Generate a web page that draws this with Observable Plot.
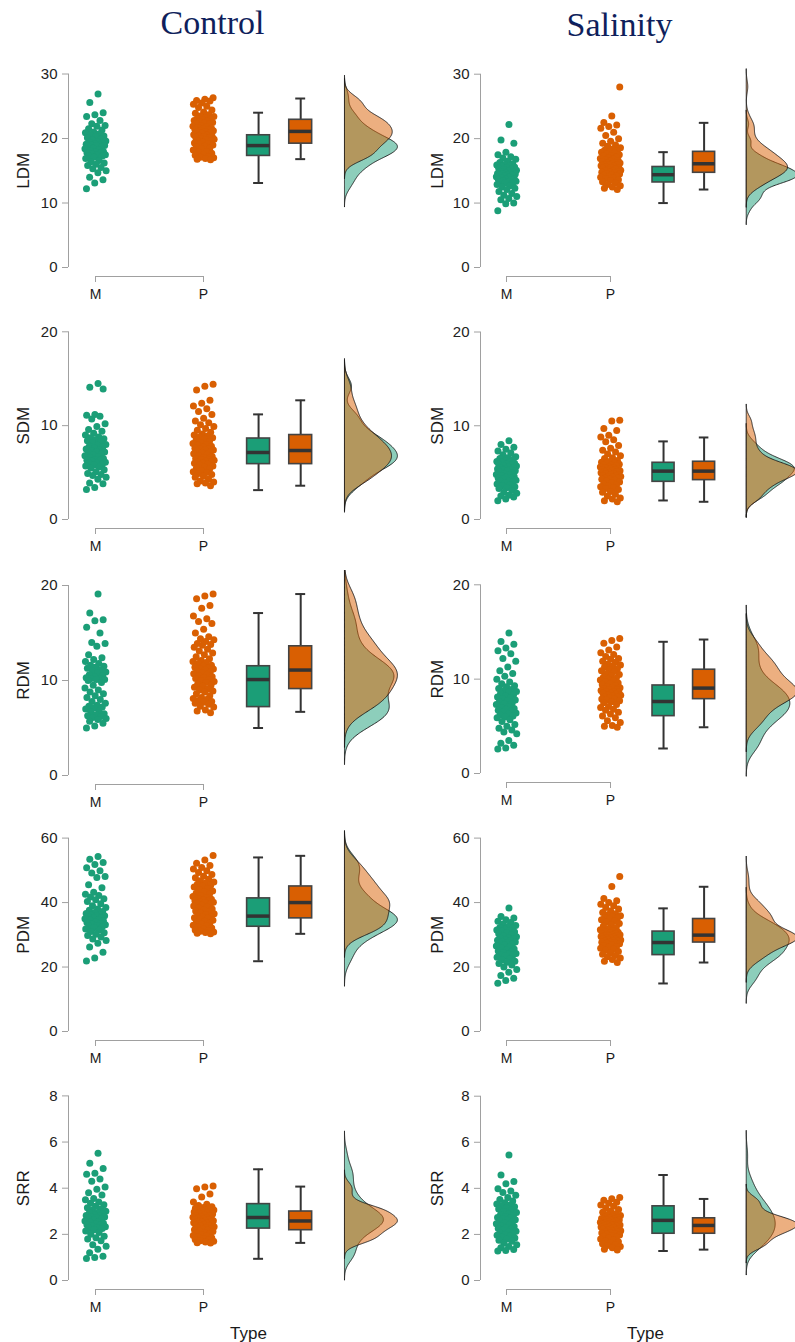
<!DOCTYPE html>
<html>
<head>
<meta charset="utf-8">
<script src="https://cdn.jsdelivr.net/npm/d3@7"></script>
<script src="https://cdn.jsdelivr.net/npm/@observablehq/plot@0.6"></script>
<style>
  html, body { margin: 0; padding: 0; background: #fff; }
  #page { position: relative; width: 795px; height: 1342px; overflow: hidden; background: #fff; }
  .title { position: absolute; top: 6px; font-family: "Liberation Serif", "Times New Roman", serif; font-size: 34px; line-height: 34px; color: #0f1f5c; text-align: center; }
  .panel { position: absolute; overflow: hidden; }
</style>
</head>
<body>
<div id="page"></div>
<script>
// ---------------- data ----------------
const conditions = ["Control", "Salinity"];
const typeLabels = ["M", "P"];
const traits = ["LDM", "SDM", "RDM", "PDM", "SRR"];
const yMax = [30, 20, 20, 60, 8];
const yTicks = [[0, 10, 20, 30], [0, 10, 20], [0, 10, 20], [0, 20, 40, 60], [0, 2, 4, 6, 8]];

// individual observations read from the jittered points
const ldmControlM = [26.9, 25.6, 24.0, 23.7, 23.4, 22.8, 22.3, 22.0, 21.9, 21.5, 21.3, 21.0, 20.9, 20.7, 20.6,
  20.4, 20.3, 20.1, 19.9, 19.8, 19.6, 19.5, 19.4, 19.3, 19.2, 19.1, 19.0, 19.0, 18.9, 18.9,
  18.8, 18.7, 18.5, 18.4, 18.2, 18.1, 18.0, 17.9, 17.8, 17.7, 17.6, 17.5, 17.4, 17.3, 17.3,
  17.1, 16.9, 16.6, 16.4, 16.2, 16.0, 15.8, 15.5, 15.3, 15.0, 14.7, 14.0, 13.6, 13.1, 12.2];
const ldmControlP = [26.3, 26.1, 25.9, 25.8, 25.5, 25.3, 25.0, 24.8, 24.4, 24.1, 23.9, 23.7, 23.5, 23.4, 23.2, 23.1, 23.0, 22.9,
  22.8, 22.7, 22.6, 22.5, 22.4, 22.3, 22.2, 22.0, 21.9, 21.8, 21.7, 21.6, 21.5, 21.4, 21.3, 21.2, 21.2, 21.1,
  21.0, 20.9, 20.8, 20.6, 20.5, 20.4, 20.3, 20.3, 20.2, 20.1, 20.0, 19.9, 19.8, 19.7, 19.6, 19.4, 19.3, 19.2,
  19.1, 19.0, 18.8, 18.7, 18.5, 18.4, 18.2, 18.0, 17.9, 17.7, 17.5, 17.4, 17.2, 17.1, 17.0, 16.9, 16.8, 16.7];
const ldmSalinityM = [22.2, 19.8, 19.3, 17.9, 17.5, 17.2, 17.0, 16.8, 16.5, 16.3, 16.1, 16.0, 15.9, 15.8, 15.7,
  15.6, 15.5, 15.4, 15.3, 15.2, 15.1, 15.0, 14.9, 14.8, 14.7, 14.6, 14.6, 14.5, 14.5, 14.4,
  14.3, 14.3, 14.2, 14.1, 14.0, 13.9, 13.8, 13.7, 13.7, 13.6, 13.5, 13.4, 13.3, 13.3, 13.2,
  13.1, 12.9, 12.7, 12.5, 12.3, 12.1, 11.8, 11.5, 11.2, 11.0, 10.7, 10.5, 10.0, 9.9, 8.8];
const ldmSalinityP = [28.0, 23.5, 22.5, 22.1, 21.9, 21.6, 21.0, 20.5, 20.0, 19.6, 19.3, 19.0, 18.8, 18.6, 18.4, 18.2, 18.1, 18.0,
  17.9, 17.8, 17.6, 17.5, 17.4, 17.3, 17.1, 17.0, 16.9, 16.8, 16.7, 16.6, 16.5, 16.4, 16.3, 16.2, 16.2, 16.1,
  16.0, 15.9, 15.9, 15.8, 15.7, 15.6, 15.5, 15.5, 15.4, 15.3, 15.2, 15.1, 15.0, 15.0, 14.9, 14.8, 14.8, 14.7,
  14.6, 14.5, 14.4, 14.3, 14.2, 14.1, 14.0, 13.9, 13.8, 13.6, 13.5, 13.3, 13.1, 12.9, 12.7, 12.5, 12.3, 12.1];

const sdmControlM = [14.5, 14.1, 13.9, 11.2, 11.1, 11.0, 10.7, 10.2, 9.9, 9.6, 9.4, 9.2, 9.0, 8.8, 8.7,
  8.6, 8.5, 8.4, 8.3, 8.2, 8.0, 7.9, 7.8, 7.7, 7.6, 7.5, 7.4, 7.3, 7.2, 7.2,
  7.1, 7.0, 6.9, 6.8, 6.7, 6.6, 6.5, 6.4, 6.3, 6.3, 6.2, 6.1, 6.0, 6.0, 5.9,
  5.8, 5.7, 5.6, 5.5, 5.3, 5.1, 4.9, 4.8, 4.7, 4.5, 4.3, 3.9, 3.8, 3.4, 3.2];
const sdmControlP = [14.4, 14.2, 13.8, 12.7, 12.4, 12.1, 11.8, 11.5, 11.2, 10.8, 10.5, 10.3, 10.1, 9.9, 9.7, 9.5, 9.3, 9.1,
  9.0, 8.9, 8.8, 8.7, 8.6, 8.5, 8.3, 8.2, 8.1, 8.0, 7.9, 7.8, 7.7, 7.6, 7.5, 7.5, 7.4, 7.4,
  7.3, 7.2, 7.1, 7.0, 6.9, 6.8, 6.7, 6.6, 6.5, 6.4, 6.4, 6.3, 6.2, 6.1, 6.1, 6.0, 6.0, 5.9,
  5.8, 5.7, 5.6, 5.5, 5.4, 5.2, 5.1, 5.0, 4.9, 4.8, 4.6, 4.5, 4.3, 4.1, 4.0, 3.9, 3.8, 3.6];
const sdmSalinityM = [8.4, 8.0, 7.7, 7.5, 7.3, 7.1, 6.9, 6.7, 6.6, 6.5, 6.4, 6.3, 6.2, 6.1, 6.1,
  6.0, 5.9, 5.9, 5.8, 5.7, 5.7, 5.6, 5.5, 5.5, 5.4, 5.4, 5.3, 5.3, 5.2, 5.2,
  5.1, 5.0, 4.9, 4.8, 4.8, 4.7, 4.6, 4.5, 4.4, 4.4, 4.3, 4.2, 4.1, 4.1, 4.0,
  3.9, 3.8, 3.7, 3.6, 3.5, 3.4, 3.3, 3.1, 2.9, 2.8, 2.6, 2.5, 2.4, 2.2, 2.0];
const sdmSalinityP = [10.6, 10.5, 9.7, 9.5, 9.0, 8.8, 8.5, 8.3, 7.9, 7.6, 7.4, 7.2, 7.0, 6.8, 6.6, 6.5, 6.3, 6.2,
  6.1, 6.0, 6.0, 5.9, 5.8, 5.8, 5.7, 5.6, 5.6, 5.5, 5.5, 5.4, 5.4, 5.3, 5.3, 5.2, 5.2, 5.2,
  5.1, 5.1, 5.0, 5.0, 4.9, 4.9, 4.8, 4.8, 4.7, 4.7, 4.6, 4.6, 4.5, 4.4, 4.4, 4.3, 4.3, 4.2,
  4.1, 4.0, 3.9, 3.8, 3.7, 3.6, 3.5, 3.4, 3.3, 3.2, 3.0, 2.9, 2.7, 2.5, 2.3, 2.2, 2.0, 1.9];

const rdmControlM = [19.1, 17.1, 16.4, 16.3, 15.6, 15.0, 14.0, 13.9, 13.6, 12.7, 12.4, 12.2, 12.0, 11.8, 11.6,
  11.5, 11.4, 11.3, 11.1, 11.0, 10.9, 10.8, 10.6, 10.5, 10.4, 10.3, 10.2, 10.2, 10.1, 10.1,
  10.0, 9.8, 9.5, 9.2, 9.0, 8.8, 8.6, 8.4, 8.2, 8.0, 7.8, 7.6, 7.4, 7.3, 7.2,
  7.1, 7.0, 6.8, 6.7, 6.5, 6.4, 6.3, 6.2, 6.1, 6.0, 5.9, 5.7, 5.5, 5.2, 5.0];
const rdmControlP = [19.1, 18.9, 18.6, 17.9, 17.6, 16.8, 16.5, 16.2, 16.0, 15.4, 15.0, 14.6, 14.4, 14.3, 14.1, 13.9, 13.8, 13.7,
  13.5, 13.3, 13.1, 12.9, 12.7, 12.5, 12.3, 12.1, 12.0, 11.9, 11.8, 11.6, 11.5, 11.4, 11.3, 11.2, 11.2, 11.1,
  11.0, 10.9, 10.8, 10.7, 10.6, 10.5, 10.4, 10.3, 10.2, 10.1, 10.0, 9.9, 9.8, 9.6, 9.5, 9.4, 9.3, 9.1,
  9.0, 8.9, 8.8, 8.6, 8.4, 8.2, 8.1, 8.0, 7.9, 7.8, 7.7, 7.6, 7.5, 7.3, 7.2, 6.9, 6.8, 6.6];
const rdmSalinityM = [14.9, 14.0, 13.7, 13.3, 13.0, 12.7, 12.2, 11.9, 11.3, 10.9, 10.6, 10.3, 10.0, 9.7, 9.5,
  9.3, 9.2, 9.0, 8.9, 8.8, 8.7, 8.6, 8.5, 8.3, 8.2, 8.1, 8.0, 7.9, 7.8, 7.7,
  7.6, 7.5, 7.4, 7.3, 7.1, 7.0, 6.9, 6.8, 6.7, 6.6, 6.5, 6.4, 6.3, 6.2, 6.1,
  6.0, 5.9, 5.7, 5.5, 5.2, 5.0, 4.8, 4.6, 4.4, 4.2, 3.5, 3.2, 3.0, 2.7, 2.6];
const rdmSalinityP = [14.3, 14.1, 13.8, 13.4, 13.1, 12.8, 12.6, 12.4, 12.2, 12.1, 11.9, 11.8, 11.6, 11.5, 11.4, 11.3, 11.1, 11.0,
  10.9, 10.8, 10.6, 10.5, 10.4, 10.2, 10.1, 10.0, 9.9, 9.8, 9.7, 9.6, 9.5, 9.4, 9.3, 9.2, 9.1, 9.1,
  9.0, 8.9, 8.9, 8.8, 8.7, 8.7, 8.6, 8.5, 8.5, 8.4, 8.3, 8.3, 8.2, 8.1, 8.1, 8.0, 7.9, 7.9,
  7.8, 7.7, 7.6, 7.5, 7.3, 7.1, 7.0, 6.8, 6.7, 6.5, 6.3, 6.1, 5.9, 5.6, 5.4, 5.1, 5.0, 4.9];

const pdmControlM = [54.3, 53.4, 52.4, 51.8, 50.8, 49.9, 49.2, 48.1, 47.8, 45.5, 44.6, 43.2, 42.6, 42.2, 41.7,
  41.2, 40.9, 40.3, 39.6, 39.0, 38.5, 38.0, 37.6, 37.2, 36.9, 36.6, 36.3, 36.1, 35.9, 35.8,
  35.6, 35.4, 35.2, 35.0, 34.7, 34.5, 34.3, 34.0, 33.8, 33.5, 33.3, 33.1, 32.9, 32.7, 32.5,
  32.2, 31.8, 31.4, 31.0, 30.6, 30.2, 29.8, 29.3, 28.7, 28.2, 27.4, 26.2, 24.6, 22.8, 21.9];
const pdmControlP = [54.6, 53.2, 52.2, 51.5, 50.9, 50.4, 49.9, 49.3, 48.7, 48.2, 47.7, 47.2, 46.8, 46.4, 46.0, 45.7, 45.4, 45.1,
  44.8, 44.4, 44.0, 43.6, 43.3, 42.9, 42.6, 42.2, 41.9, 41.6, 41.3, 41.0, 40.8, 40.6, 40.4, 40.2, 40.1, 40.0,
  39.8, 39.5, 39.2, 38.9, 38.6, 38.3, 38.0, 37.7, 37.4, 37.1, 36.8, 36.5, 36.2, 35.9, 35.7, 35.5, 35.3, 35.1,
  34.8, 34.5, 34.2, 33.9, 33.6, 33.3, 33.0, 32.7, 32.4, 32.1, 31.8, 31.5, 31.3, 31.1, 30.9, 30.7, 30.5, 30.3];
const pdmSalinityM = [38.3, 35.7, 35.2, 34.7, 34.2, 33.8, 33.3, 32.9, 32.6, 32.3, 32.0, 31.7, 31.5, 31.3, 31.1,
  30.9, 30.6, 30.3, 30.0, 29.7, 29.4, 29.1, 28.9, 28.7, 28.5, 28.3, 28.1, 27.9, 27.8, 27.6,
  27.4, 27.1, 26.8, 26.5, 26.2, 25.9, 25.6, 25.3, 25.0, 24.7, 24.5, 24.2, 24.0, 23.8, 23.7,
  23.4, 23.0, 22.6, 22.2, 21.8, 21.5, 21.1, 20.6, 20.0, 19.2, 18.4, 17.4, 16.5, 15.8, 15.0];
const pdmSalinityP = [48.1, 45.0, 41.3, 40.6, 40.0, 39.5, 39.0, 38.5, 38.0, 37.4, 36.9, 36.5, 36.2, 35.9, 35.6, 35.4, 35.2, 35.0,
  34.7, 34.3, 33.9, 33.5, 33.1, 32.7, 32.3, 31.9, 31.6, 31.3, 31.0, 30.8, 30.6, 30.4, 30.3, 30.1, 30.0, 29.9,
  29.8, 29.7, 29.6, 29.5, 29.3, 29.2, 29.0, 28.9, 28.8, 28.6, 28.5, 28.4, 28.2, 28.1, 28.0, 27.8, 27.7, 27.6,
  27.4, 27.2, 27.0, 26.7, 26.4, 26.1, 25.8, 25.5, 25.2, 24.8, 24.4, 24.0, 23.6, 23.2, 22.8, 22.3, 21.8, 21.4];

const srrControlM = [5.52, 5.08, 4.85, 4.65, 4.60, 4.40, 4.30, 4.05, 3.95, 3.80, 3.70, 3.55, 3.50, 3.40, 3.35,
  3.28, 3.22, 3.15, 3.10, 3.05, 3.00, 2.95, 2.92, 2.88, 2.85, 2.82, 2.80, 2.77, 2.75, 2.73,
  2.70, 2.66, 2.62, 2.58, 2.55, 2.52, 2.48, 2.45, 2.42, 2.39, 2.36, 2.33, 2.30, 2.27, 2.25,
  2.20, 2.15, 2.08, 2.00, 1.92, 1.85, 1.80, 1.72, 1.55, 1.48, 1.35, 1.20, 1.05, 1.00, 0.95];
const srrControlP = [4.10, 4.05, 3.98, 3.75, 3.62, 3.40, 3.30, 3.25, 3.20, 3.16, 3.13, 3.10, 3.08, 3.06, 3.04, 3.02, 3.01, 3.00,
  2.97, 2.94, 2.91, 2.88, 2.85, 2.82, 2.80, 2.77, 2.74, 2.72, 2.70, 2.68, 2.66, 2.64, 2.62, 2.60, 2.59, 2.58,
  2.56, 2.54, 2.52, 2.50, 2.48, 2.46, 2.44, 2.42, 2.40, 2.38, 2.36, 2.33, 2.30, 2.28, 2.25, 2.23, 2.20, 2.18,
  2.15, 2.12, 2.08, 2.05, 2.02, 1.98, 1.95, 1.92, 1.88, 1.85, 1.82, 1.78, 1.75, 1.72, 1.70, 1.67, 1.64, 1.62];
const srrSalinityM = [5.45, 4.58, 4.30, 4.20, 3.98, 3.88, 3.82, 3.70, 3.60, 3.52, 3.45, 3.38, 3.32, 3.28, 3.24,
  3.20, 3.15, 3.10, 3.05, 3.00, 2.95, 2.90, 2.86, 2.82, 2.78, 2.74, 2.70, 2.67, 2.64, 2.61,
  2.58, 2.54, 2.50, 2.46, 2.42, 2.38, 2.34, 2.30, 2.26, 2.22, 2.18, 2.14, 2.10, 2.06, 2.03,
  2.00, 1.96, 1.92, 1.88, 1.84, 1.80, 1.75, 1.70, 1.62, 1.55, 1.48, 1.42, 1.35, 1.30, 1.28];
const srrSalinityP = [3.60, 3.55, 3.48, 3.40, 3.35, 3.28, 3.22, 3.15, 3.08, 3.02, 2.96, 2.90, 2.86, 2.82, 2.78, 2.75, 2.73, 2.71,
  2.69, 2.67, 2.65, 2.63, 2.61, 2.59, 2.57, 2.55, 2.53, 2.51, 2.49, 2.47, 2.45, 2.44, 2.43, 2.42, 2.41, 2.40,
  2.38, 2.36, 2.34, 2.32, 2.30, 2.28, 2.26, 2.24, 2.22, 2.20, 2.18, 2.16, 2.14, 2.12, 2.10, 2.08, 2.06, 2.04,
  2.01, 1.98, 1.95, 1.92, 1.88, 1.84, 1.80, 1.76, 1.72, 1.68, 1.64, 1.60, 1.56, 1.52, 1.48, 1.42, 1.36, 1.32];

// box statistics: [lower whisker, Q1, median, Q3, upper whisker], one per trait
const boxControlM  = [[13.1, 17.3, 18.9, 20.5, 24.0], [3.13, 5.9, 7.14, 8.63, 11.2], [5.0, 7.2, 10.1, 11.5, 17.1], [21.8, 32.5, 35.8, 41.3, 54.0], [0.94, 2.25, 2.73, 3.31, 4.82]];
const boxControlP  = [[16.8, 19.2, 21.1, 22.9, 26.2], [3.6, 5.9, 7.35, 9.0, 12.7], [6.7, 9.1, 11.1, 13.6, 19.1], [30.3, 35.1, 40.0, 45.0, 54.5], [1.63, 2.18, 2.58, 2.99, 4.07]];
const boxSalinityM = [[10.0, 13.2, 14.4, 15.6, 17.9], [2.03, 4.02, 5.16, 6.05, 8.33], [2.65, 6.08, 7.63, 9.33, 13.96], [14.9, 23.7, 27.6, 31.0, 38.2], [1.28, 2.03, 2.61, 3.22, 4.58]];
const boxSalinityP = [[12.1, 14.7, 16.1, 17.95, 22.45], [1.89, 4.2, 5.16, 6.16, 8.75], [4.9, 7.88, 9.05, 11.0, 14.2], [21.4, 27.6, 29.9, 34.9, 44.9], [1.34, 2.03, 2.39, 2.70, 3.54]];

// ---------------- assembly ----------------
const pointSets = [
  [[ldmControlM, ldmControlP], [sdmControlM, sdmControlP], [rdmControlM, rdmControlP], [pdmControlM, pdmControlP], [srrControlM, srrControlP]],
  [[ldmSalinityM, ldmSalinityP], [sdmSalinityM, sdmSalinityP], [rdmSalinityM, rdmSalinityP], [pdmSalinityM, pdmSalinityP], [srrSalinityM, srrSalinityP]]
];
const boxSets = [[boxControlM, boxControlP], [boxSalinityM, boxSalinityP]];

const typeColors = ["#1b9e77", "#d95f02"];
const POS_POINTS = [1, 2], POS_BOX = [2.51, 2.90], POS_DENS = 3.31, AXIS_X = 0.75;
const DENS_W = 0.49, BOX_HW = 0.106, CAP_HW = 0.046;

const colLayout = [
  {left: 0, width: 400, marginLeft: 68, unit: 108, labelDx: -45, typeDx: 45},
  {left: 400, width: 395, marginLeft: 80, unit: 104, labelDx: -43, typeDx: 35}
];
const Y0 = 205;
const rowTop = [[61.5, 314.3, 570, 825.7, 1075.3], [61.5, 314.3, 568, 825.7, 1075.3]];
const rowLen = [[193.5, 187.7, 190, 193.4, 184.6], [193.3, 187.5, 188.7, 193.4, 184.3]];

function kde(values) {
  const n = values.length;
  const sd = d3.deviation(values);
  const s = values.slice().sort(d3.ascending);
  const iqr = d3.quantileSorted(s, 0.75) - d3.quantileSorted(s, 0.25);
  const bw = 0.9 * Math.min(sd, iqr / 1.34) * Math.pow(n, -0.2);
  const lo = s[0] - 3 * bw, hi = s[n - 1] + 3 * bw;
  const out = [];
  const K = 240;
  for (let k = 0; k <= K; k++) {
    const y = lo + (hi - lo) * k / K;
    let acc = 0;
    for (const v of values) { const z = (y - v) / bw; acc += Math.exp(-0.5 * z * z); }
    out.push({y, d: acc / (n * bw * Math.sqrt(2 * Math.PI))});
  }
  return out;
}

function jitter(i) {
  return ((((i + 1) * 0.6180339887) % 1) - 0.5) * 0.2;
}

const page = document.getElementById("page");

conditions.forEach((cond, ci) => {
  const t = document.createElement("div");
  t.className = "title";
  t.textContent = cond;
  if (ci === 0) { t.style.left = "0px"; t.style.width = "425px"; }
  else { t.style.left = "400px"; t.style.width = "439px"; t.style.top = "8px"; }
  page.appendChild(t);
});

conditions.forEach((cond, ci) => {
  const L = colLayout[ci];
  traits.forEach((trait, ri) => {
    const H = ri === 4 ? 267 : 250;
    const len = rowLen[ci][ri];
    const [mVals, pVals] = pointSets[ci][ri];
    const points = [];
    [mVals, pVals].forEach((vals, ti) => {
      vals.forEach((v, i) => points.push({type: typeLabels[ti], x: POS_POINTS[ti] + jitter(i + ti * 7), y: v, c: typeColors[ti]}));
    });
    const dens = [kde(mVals), kde(pVals)];
    const maxD = d3.max(dens.flat(), d => d.d);
    const densData = dens.map(arr => arr.map(p => ({y: p.y, x1: POS_DENS, x2: POS_DENS + DENS_W * p.d / maxD})));
    const boxes = boxSets[ci].map((b, ti) => ({
      pos: POS_BOX[ti], lo: b[ri][0], q1: b[ri][1], med: b[ri][2], q3: b[ri][3], hi: b[ri][4], c: typeColors[ti]
    }));

    const marks = [
      Plot.ruleX([AXIS_X], {y1: 0, y2: yMax[ri], stroke: "#a0a0a0", strokeWidth: 1}),
      Plot.axisY({ticks: yTicks[ri], tickSize: 6, tickPadding: 5, fontSize: 15, stroke: "#a0a0a0", fill: "#222", label: null}),
      Plot.text([trait], {x: AXIS_X, y: yMax[ri] / 2, text: d => d, rotate: -90, dx: L.labelDx, fontSize: 17, fill: "#1a1a1a"}),
      Plot.ruleY([0], {x1: POS_POINTS[0], x2: POS_POINTS[1], dy: 9, stroke: "#a0a0a0", strokeWidth: 1}),
      Plot.axisX({ticks: POS_POINTS, tickFormat: d => typeLabels[POS_POINTS.indexOf(d)], tickSize: 6, tickPadding: 7, fontSize: 14, stroke: "#a0a0a0", fill: "#1a1a1a", label: null}),
      Plot.dot(points, {x: "x", y: "y", r: 3.5, fill: "c", stroke: null}),
      Plot.ruleX(boxes, {x: "pos", y1: "lo", y2: "q1", stroke: "#333", strokeWidth: 2}),
      Plot.ruleX(boxes, {x: "pos", y1: "q3", y2: "hi", stroke: "#333", strokeWidth: 2}),
      Plot.ruleY(boxes, {y: "lo", x1: d => d.pos - CAP_HW, x2: d => d.pos + CAP_HW, stroke: "#333", strokeWidth: 2}),
      Plot.ruleY(boxes, {y: "hi", x1: d => d.pos - CAP_HW, x2: d => d.pos + CAP_HW, stroke: "#333", strokeWidth: 2}),
      Plot.rect(boxes, {x1: d => d.pos - BOX_HW, x2: d => d.pos + BOX_HW, y1: "q1", y2: "q3", fill: "c", stroke: "#444", strokeWidth: 1.6}),
      Plot.ruleY(boxes, {y: "med", x1: d => d.pos - BOX_HW, x2: d => d.pos + BOX_HW, stroke: "#333", strokeWidth: 3.5}),
      Plot.areaX(densData[0], {y: "y", x1: "x1", x2: "x2", fill: typeColors[0], fillOpacity: 0.5, stroke: "#1a1a1a", strokeWidth: 0.9, curve: "linear"}),
      Plot.areaX(densData[1], {y: "y", x1: "x1", x2: "x2", fill: typeColors[1], fillOpacity: 0.5, stroke: "#1a1a1a", strokeWidth: 0.9, curve: "linear"})
    ];
    if (ri === 4) {
      marks.push(Plot.text(["Type"], {x: POS_POINTS[1], y: 0, text: d => d, dx: L.typeDx, dy: 53, fontSize: 17, fill: "#1a1a1a"}));
    }

    const svg = Plot.plot({
      width: L.width,
      height: H,
      marginLeft: L.marginLeft,
      marginRight: 0,
      marginTop: 0,
      marginBottom: H - (Y0 + 9),
      x: {type: "linear", domain: [AXIS_X, 3.88], range: [L.marginLeft, L.marginLeft + 3.13 * L.unit]},
      y: {type: "linear", domain: [0, yMax[ri]], range: [Y0, Y0 - len]},
      style: {background: "transparent", overflow: "hidden", fontFamily: "'Liberation Sans', Arial, sans-serif", color: "#222"},
      marks
    });
    const wrap = document.createElement("div");
    wrap.className = "panel";
    wrap.style.left = L.left + "px";
    wrap.style.top = rowTop[ci][ri] + "px";
    wrap.style.width = L.width + "px";
    wrap.style.height = H + "px";
    wrap.appendChild(svg);
    page.appendChild(wrap);
  });
});
</script>
</body>
</html>
